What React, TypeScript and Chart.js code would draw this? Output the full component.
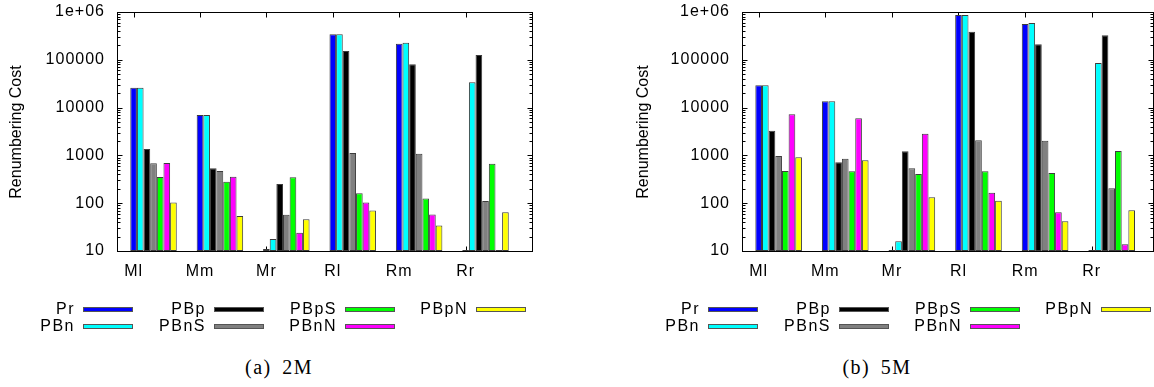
import React, { useEffect, useRef } from "react";
import { Chart, registerables } from "chart.js";

Chart.register(...registerables);

// ---------- data ----------
const categories = ["Ml", "Mm", "Mr", "Rl", "Rm", "Rr"];
const seriesNames = ["Pr", "PBn", "PBp", "PBnS", "PBpS", "PBnN", "PBpN"];
const seriesColors = ["#0000ff", "#00ffff", "#000000", "#808080", "#00ff00", "#ff00ff", "#ffff00"];

// (a) 2M
const pr2M = [26000, 7000, 11, 341000, 217000, 10.5];
const pbn2M = [26000, 7000, 17.8, 341000, 228000, 33800];
const pbp2M = [1360, 537, 252, 153000, 80500, 126000];
const pbns2M = [683, 472, 57, 1122, 1087, 111];
const pbps2M = [353, 282, 350, 161, 126, 670];
const pbnn2M = [693, 358, 24, 104, 58, 10.5];
const pbpn2M = [103, 54, 46, 70, 34, 65];

// (b) 5M
const pr5M = [29200, 13550, 10.5, 865000, 561000, 10.5];
const pbn5M = [29200, 13550, 16, 865000, 589000, 85700];
const pbp5M = [3290, 716, 1220, 387000, 211000, 325000];
const pbns5M = [970, 853, 537, 2070, 2030, 205];
const pbps5M = [472, 465, 408, 465, 429, 1236];
const pbnn5M = [7250, 5970, 2845, 166, 65, 13.8];
const pbpn5M = [912, 789, 133, 113, 42, 71];

const yTickValues = [10, 100, 1000, 10000, 100000, 1000000];
const yTickLabels = ["10", "100", "1000", "10000", "100000", "1e+06"];
const yTitle = "Renumbering Cost";

// ---------- layout / style ----------
const SANS = "'Liberation Sans', Arial, Helvetica, sans-serif";
const SERIF = "'Liberation Serif', 'DejaVu Serif', serif";
const CANVAS_H = 300;
const PLOT_TOP = 12;
const PLOT_BOTTOM = 251;
const CLUSTER_SHIFT = 0.3;
const BAR_BORDER = "#3c3c3c";

const panels = [
  {
    caption: "(a) 2M",
    series: [pr2M, pbn2M, pbp2M, pbns2M, pbps2M, pbnn2M, pbpn2M],
    canvasLeft: 0,
    canvasWidth: 577,
    plotLeft: 117,
    plotRight: 532,
    xMax: 6,
    titleX: 16,
    captionX: 279,
  },
  {
    caption: "(b) 5M",
    series: [pr5M, pbn5M, pbp5M, pbns5M, pbps5M, pbnn5M, pbpn5M],
    canvasLeft: 577,
    canvasWidth: 577,
    plotLeft: 742,
    plotRight: 1153,
    xMax: 5.92,
    titleX: 642.5,
    captionX: 877,
  },
];

const framePlugin = {
  id: "gnuplotFrame",
  beforeDraw(chart: any) {
    try {
      chart.ctx.letterSpacing = "1px";
    } catch (e) {}
  },
  beforeDatasetsDraw(chart: any) {
    const { ctx, chartArea: a, scales } = chart;
    const xs = scales.x;
    const ys = scales.y;
    const L = Math.round(a.left) + 0.5;
    const R = Math.round(a.right) + 0.5;
    const T = Math.round(a.top) + 0.5;
    const B = Math.round(a.bottom) + 0.5;
    ctx.save();
    ctx.strokeStyle = "#000";
    ctx.lineWidth = 1;
    ctx.beginPath();
    yTickValues.forEach((d, idx) => {
      const yy = Math.round(ys.getPixelForValue(d)) + 0.5;
      ctx.moveTo(L, yy);
      ctx.lineTo(L + 5, yy);
      ctx.moveTo(R, yy);
      ctx.lineTo(R - 5, yy);
      if (idx < yTickValues.length - 1) {
        for (let k = 2; k <= 9; k++) {
          const ym = Math.round(ys.getPixelForValue(d * k)) + 0.5;
          ctx.moveTo(L, ym);
          ctx.lineTo(L + 3, ym);
          ctx.moveTo(R, ym);
          ctx.lineTo(R - 3, ym);
        }
      }
    });
    categories.forEach((_, i) => {
      const xx = Math.round(xs.getPixelForValue(i)) + 0.5;
      ctx.moveTo(xx, T);
      ctx.lineTo(xx, T + 5);
      ctx.moveTo(xx, B);
      ctx.lineTo(xx, B - 5);
    });
    ctx.stroke();
    ctx.restore();
  },
  afterDatasetsDraw(chart: any) {
    const { ctx, chartArea: a } = chart;
    const L = Math.round(a.left) + 0.5;
    const R = Math.round(a.right) + 0.5;
    const T = Math.round(a.top) + 0.5;
    const B = Math.round(a.bottom) + 0.5;
    ctx.save();
    ctx.strokeStyle = "#000";
    ctx.lineWidth = 1;
    ctx.strokeRect(L, T, R - L, B - T);
    ctx.restore();
  },
};

function Panel({ p }: { p: any }) {
  const ref = useRef<HTMLCanvasElement>(null);
  useEffect(() => {
    const canvas = ref.current;
    if (!canvas) return;
    const datasets = seriesNames.map((name, k) => ({
      label: name,
      data: p.series[k].map((v: number, i: number) => ({ x: i + CLUSTER_SHIFT, y: v })),
      backgroundColor: seriesColors[k],
      borderColor: BAR_BORDER,
      borderWidth: 1,
      borderSkipped: false,
      categoryPercentage: 0.7,
      barPercentage: 1,
    }));
    const yAxisWidth = p.plotLeft - p.canvasLeft;
    const padRight = p.canvasLeft + p.canvasWidth - p.plotRight;
    const chart = new Chart(canvas, {
      type: "bar",
      data: { datasets } as any,
      options: {
        responsive: false,
        animation: false,
        devicePixelRatio: 1,
        events: [],
        layout: { padding: { left: 0, top: PLOT_TOP, right: padRight, bottom: 0 } },
        plugins: { legend: { display: false }, tooltip: { enabled: false }, title: { display: false } },
        scales: {
          x: {
            type: "linear",
            min: -0.25,
            max: p.xMax,
            offset: false,
            grid: { display: false, drawTicks: false },
            border: { display: false },
            afterBuildTicks: (s: any) => {
              s.ticks = categories.map((_, i) => ({ value: i }));
            },
            afterFit: (s: any) => {
              s.height = CANVAS_H - PLOT_BOTTOM;
            },
            ticks: {
              padding: 11,
              autoSkip: false,
              maxRotation: 0,
              color: "#000",
              font: { family: SANS, size: 16 },
              callback: (v: any) => categories[v] ?? "",
            },
          },
          y: {
            type: "logarithmic",
            min: 10,
            max: 1000000,
            grid: { display: false, drawTicks: true, tickLength: 12 },
            border: { display: false },
            afterBuildTicks: (s: any) => {
              s.ticks = yTickValues.map((v) => ({ value: v }));
            },
            afterFit: (s: any) => {
              s.width = yAxisWidth;
            },
            ticks: {
              padding: 0,
              autoSkip: false,
              color: "#000",
              font: { family: SANS, size: 16 },
              callback: (v: any) => {
                const idx = yTickValues.indexOf(Number(v));
                return idx >= 0 ? yTickLabels[idx] : "";
              },
            },
          },
        },
      } as any,
      plugins: [framePlugin],
    });
    return () => chart.destroy();
  }, [p]);

  const legendItems = seriesNames.map((name, k) => {
    const col = Math.floor(k / 2);
    const row = k % 2;
    const lineX = p.plotLeft - 34 + col * 131;
    const cy = 309 + row * 17;
    return (
      <React.Fragment key={name}>
        <div
          style={{
            position: "absolute",
            left: lineX - 8 - 120,
            width: 120,
            top: cy - 10,
            height: 20,
            lineHeight: "20px",
            textAlign: "right",
            fontFamily: SANS,
            fontSize: 16,
            letterSpacing: "1.5px",
            color: "#000",
            whiteSpace: "nowrap",
          }}
        >
          {name}
        </div>
        <div
          style={{
            position: "absolute",
            left: lineX,
            top: cy - 2.5,
            width: 50,
            height: 5,
            boxSizing: "border-box",
            border: "1px solid #555",
            background: seriesColors[k],
          }}
        />
      </React.Fragment>
    );
  });

  return (
    <>
      <canvas
        ref={ref}
        width={p.canvasWidth}
        height={CANVAS_H}
        style={{ position: "absolute", left: p.canvasLeft, top: 0 }}
      />
      <div
        style={{
          position: "absolute",
          left: p.titleX - 100,
          top: (PLOT_TOP + PLOT_BOTTOM) / 2 - 10,
          width: 200,
          height: 20,
          lineHeight: "20px",
          textAlign: "center",
          transform: "rotate(-90deg)",
          fontFamily: SANS,
          fontSize: 16,
          color: "#000",
          whiteSpace: "nowrap",
        }}
      >
        {yTitle}
      </div>
      {legendItems}
      <div
        style={{
          position: "absolute",
          left: p.captionX - 100,
          top: 367 - 12,
          width: 200,
          height: 24,
          lineHeight: "24px",
          textAlign: "center",
          fontFamily: SERIF,
          fontSize: 20,
          letterSpacing: "1.5px",
          wordSpacing: "4px",
          color: "#000",
          whiteSpace: "nowrap",
        }}
      >
        {p.caption}
      </div>
    </>
  );
}

export default function App() {
  return (
    <div
      style={{
        position: "fixed",
        left: 0,
        top: 0,
        width: 1154,
        height: 387,
        background: "#fff",
        overflow: "hidden",
      }}
    >
      {panels.map((p) => (
        <Panel key={p.caption} p={p} />
      ))}
    </div>
  );
}
